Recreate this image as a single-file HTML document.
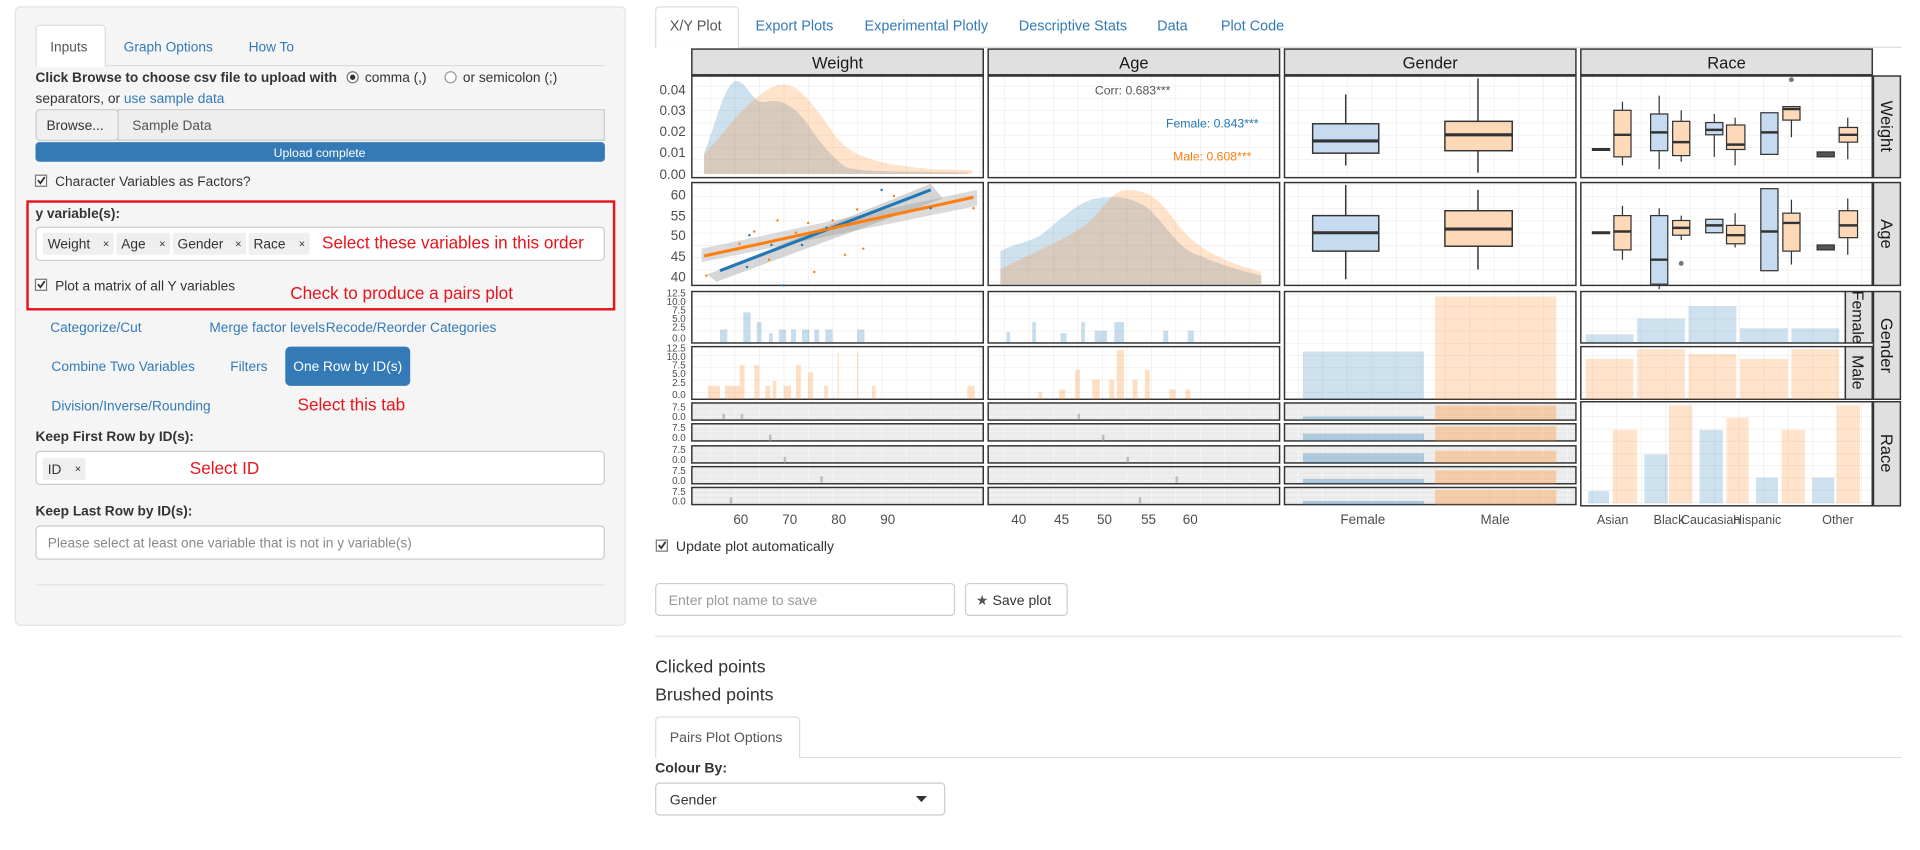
<!DOCTYPE html>
<html><head><meta charset="utf-8"><style>
html,body{margin:0;padding:0;background:#fff;}
svg{display:block;font-family:"Liberation Sans",Arial,sans-serif;}
</style></head><body>
<svg width="1920" height="850" viewBox="0 0 1568 694" xmlns="http://www.w3.org/2000/svg">
<defs>
<pattern id="g" width="20" height="10" patternUnits="userSpaceOnUse"><rect width="20" height="10" fill="#fff"/><path d="M0 0H20M0 0V10" stroke="#ebebeb" stroke-width="1"/></pattern>
<pattern id="gg" width="20" height="4" patternUnits="userSpaceOnUse"><rect width="20" height="4" fill="#ebebeb"/><path d="M0 0H20M0 0V4" stroke="#fff" stroke-width="0.6"/></pattern>
</defs>
<rect width="1568" height="694" fill="#fff"/>
<!-- LEFT PANEL -->
<rect x="12.5" y="5.5" width="498" height="505" rx="4" fill="#f5f5f5" stroke="#e3e3e3"/>
<line x1="29" y1="53.5" x2="494" y2="53.5" stroke="#ddd"/>
<path d="M29.5 53.5V23.5a3 3 0 0 1 3-3H83a3 3 0 0 1 3 3V54" fill="#fff" stroke="#ddd"/>
<rect x="30" y="52" width="55.5" height="3" fill="#fff"/>
<g font-size="11.2">
<text x="41" y="42" fill="#555">Inputs</text>
<text x="101" y="42" fill="#337ab7">Graph Options</text>
<text x="203" y="42" fill="#337ab7">How To</text>
<text x="29" y="67" font-weight="bold" fill="#333">Click Browse to choose csv file to upload with</text>
<circle cx="288" cy="63" r="4.5" fill="#fff" stroke="#777"/><circle cx="288" cy="63" r="2.2" fill="#333"/>
<text x="298" y="67" fill="#333">comma (,)</text>
<circle cx="368" cy="63" r="4.5" fill="#fff" stroke="#999"/>
<text x="378" y="67" fill="#333">or semicolon (;)</text>
<text x="29" y="84" fill="#333">separators, or <tspan fill="#337ab7">use sample data</tspan></text>
<rect x="29.5" y="89.5" width="67" height="25" rx="3" fill="#f0f0f0" stroke="#ccc"/>
<text x="38" y="106" fill="#333">Browse...</text>
<rect x="96.5" y="89.5" width="397" height="25" fill="#eee" stroke="#ccc"/>
<text x="108" y="106" fill="#555">Sample Data</text>
<rect x="29" y="116" width="465" height="16" rx="3" fill="#337ab7"/>
<text x="261" y="128" font-size="10" fill="#fff" text-anchor="middle">Upload complete</text>
<rect x="29" y="143" width="9" height="9" fill="#fff" stroke="#777"/><path d="M31 147l2 2.5 3.5-5" stroke="#333" fill="none" stroke-width="1.5"/>
<text x="45" y="152" fill="#333">Character Variables as Factors?</text>
<rect x="22.5" y="164.5" width="479" height="88" fill="none" stroke="#e8131b" stroke-width="2"/>
<text x="29" y="178" font-weight="bold" fill="#333">y variable(s):</text>
<rect x="29.5" y="185.5" width="464" height="27" rx="3" fill="#fff" stroke="#ccc"/>
<g font-size="11.2" fill="#333">
<rect x="35" y="190" width="58" height="18" rx="2" fill="#efefef"/><text x="39" y="203">Weight</text><text x="84" y="202" font-size="9">×</text>
<rect x="95" y="190" width="44" height="18" rx="2" fill="#efefef"/><text x="99" y="203">Age</text><text x="130" y="202" font-size="9">×</text>
<rect x="141" y="190" width="60" height="18" rx="2" fill="#efefef"/><text x="145" y="203">Gender</text><text x="192" y="202" font-size="9">×</text>
<rect x="203" y="190" width="50" height="18" rx="2" fill="#efefef"/><text x="207" y="203">Race</text><text x="244" y="202" font-size="9">×</text>
</g>
<text x="263" y="203" font-size="14" fill="#e8131b">Select these variables in this order</text>
<rect x="29" y="228" width="9" height="9" fill="#fff" stroke="#777"/><path d="M31 232l2 2.5 3.5-5" stroke="#333" fill="none" stroke-width="1.5"/>
<text x="45" y="237" fill="#333">Plot a matrix of all Y variables</text>
<text x="237" y="244" font-size="14" fill="#e8131b">Check to produce a pairs plot</text>
<text x="41" y="271" fill="#337ab7">Categorize/Cut</text>
<text x="171" y="271" fill="#337ab7">Merge factor levels</text>
<text x="266" y="271" fill="#337ab7">Recode/Reorder Categories</text>
<text x="42" y="303" fill="#337ab7">Combine Two Variables</text>
<text x="188" y="303" fill="#337ab7">Filters</text>
<rect x="233" y="283" width="102" height="32" rx="4" fill="#337ab7"/>
<text x="284" y="303" fill="#fff" text-anchor="middle">One Row by ID(s)</text>
<text x="42" y="335" fill="#337ab7">Division/Inverse/Rounding</text>
<text x="243" y="335" font-size="14" fill="#e8131b">Select this tab</text>
<text x="29" y="360" font-weight="bold" fill="#333">Keep First Row by ID(s):</text>
<rect x="29.5" y="368.5" width="464" height="27" rx="3" fill="#fff" stroke="#ccc"/>
<rect x="35" y="374" width="35" height="18" rx="2" fill="#efefef"/><text x="39" y="387" fill="#333">ID</text><text x="61" y="386" font-size="9" fill="#333">×</text>
<text x="155" y="387" font-size="14" fill="#e8131b">Select ID</text>
<text x="29" y="421" font-weight="bold" fill="#333">Keep Last Row by ID(s):</text>
<rect x="29.5" y="429.5" width="464" height="27" rx="3" fill="#fff" stroke="#ccc"/>
<text x="39" y="447" fill="#888">Please select at least one variable that is not in y variable(s)</text>
</g>
<line x1="29" y1="477.5" x2="494" y2="477.5" stroke="#e3e3e3"/>

<!-- RIGHT TABS -->
<line x1="535" y1="38.5" x2="1553" y2="38.5" stroke="#ddd"/>
<path d="M535.5 39V8.5a3 3 0 0 1 3-3H600a3 3 0 0 1 3 3V39" fill="#fff" stroke="#ddd"/>
<g font-size="11.8">
<text x="547" y="25" fill="#555">X/Y Plot</text>
<text x="617" y="25" fill="#337ab7">Export Plots</text>
<text x="706" y="25" fill="#337ab7">Experimental Plotly</text>
<text x="832" y="25" fill="#337ab7">Descriptive Stats</text>
<text x="945" y="25" fill="#337ab7">Data</text>
<text x="997" y="25" fill="#337ab7">Plot Code</text>
</g>

<!-- PLOT: strips -->
<g stroke="#333" stroke-width="1.2">
<rect x="565" y="40" width="238" height="21" fill="#e0e0e0"/>
<rect x="807" y="40" width="238" height="21" fill="#e0e0e0"/>
<rect x="1049" y="40" width="238" height="21" fill="#e0e0e0"/>
<rect x="1291" y="40" width="238" height="21" fill="#e0e0e0"/>
<rect x="1530" y="62" width="22" height="83" fill="#e0e0e0"/>
<rect x="1530" y="149" width="22" height="84" fill="#e0e0e0"/>
<rect x="1530" y="238" width="22" height="88" fill="#e0e0e0"/>
<rect x="1530" y="328" width="22" height="85" fill="#e0e0e0"/>
<rect x="1507" y="238" width="22" height="42" fill="#e0e0e0"/>
<rect x="1507" y="283" width="22" height="43" fill="#e0e0e0"/>
</g>
<g font-size="13.5" fill="#1a1a1a" text-anchor="middle">
<text x="684" y="56">Weight</text><text x="926" y="56">Age</text><text x="1168" y="56">Gender</text><text x="1410" y="56">Race</text>
<text transform="translate(1536,103) rotate(90)">Weight</text>
<text transform="translate(1536,191) rotate(90)">Age</text>
<text transform="translate(1536,282) rotate(90)">Gender</text>
<text transform="translate(1536,370) rotate(90)">Race</text>
<text transform="translate(1513,259) rotate(90)" font-size="13">Female</text>
<text transform="translate(1513,304) rotate(90)" font-size="13">Male</text>
</g>
<!-- panels -->
<g stroke="#333" stroke-width="1.2">
<rect x="565" y="62" width="238" height="83" fill="url(#g)"/><rect x="807" y="62" width="238" height="83" fill="url(#g)"/><rect x="1049" y="62" width="238" height="83" fill="url(#g)"/><rect x="1291" y="62" width="238" height="83" fill="url(#g)"/>
<rect x="565" y="149" width="238" height="84" fill="url(#g)"/><rect x="807" y="149" width="238" height="84" fill="url(#g)"/><rect x="1049" y="149" width="238" height="84" fill="url(#g)"/><rect x="1291" y="149" width="238" height="84" fill="url(#g)"/>
<rect x="565" y="238" width="238" height="42" fill="url(#g)"/><rect x="807" y="238" width="238" height="42" fill="url(#g)"/>
<rect x="565" y="283" width="238" height="43" fill="url(#g)"/><rect x="807" y="283" width="238" height="43" fill="url(#g)"/>
<rect x="1049" y="238" width="238" height="88" fill="url(#g)"/>
<rect x="1291" y="238" width="216" height="42" fill="url(#g)"/><rect x="1291" y="283" width="216" height="43" fill="url(#g)"/>
<rect x="1291" y="328" width="238" height="85" fill="url(#g)"/>
</g>
<g stroke="#333" stroke-width="1.2" fill="url(#gg)">
<rect x="565" y="329" width="238" height="14"/><rect x="565" y="346" width="238" height="14"/><rect x="565" y="364" width="238" height="14"/><rect x="565" y="381" width="238" height="14"/><rect x="565" y="398" width="238" height="14"/>
<rect x="807" y="329" width="238" height="14"/><rect x="807" y="346" width="238" height="14"/><rect x="807" y="364" width="238" height="14"/><rect x="807" y="381" width="238" height="14"/><rect x="807" y="398" width="238" height="14"/>
<rect x="1049" y="329" width="238" height="14"/><rect x="1049" y="346" width="238" height="14"/><rect x="1049" y="364" width="238" height="14"/><rect x="1049" y="381" width="238" height="14"/><rect x="1049" y="398" width="238" height="14"/>
</g>
<!-- Weight density -->
<path d="M575 142L575 125C585 100 592 68 601 66C610 66 615 86 625 83C640 80 650 88 660 102C672 120 680 128 690 136C700 140 720 140 790 141L790 142Z" fill="#1f77b4" fill-opacity="0.22"/>
<path d="M575 142L575 126C590 110 600 95 615 82C625 74 632 68 642 69C652 70 665 85 680 108C695 130 720 134 760 138L794 139L794 142Z" fill="#ff7f0e" fill-opacity="0.22"/>
<!-- Age density -->
<path d="M817 232V205C830 198 840 198 850 192C865 180 880 165 895 162C910 160 920 160 935 168C950 180 960 200 975 207C985 210 990 215 1030 225V232Z" fill="#1f77b4" fill-opacity="0.22"/>
<path d="M817 232V220C835 210 860 200 880 188C900 176 905 156 920 155C935 155 945 160 958 178C970 195 985 210 1030 222V232Z" fill="#ff7f0e" fill-opacity="0.22"/>
<g font-size="10" text-anchor="middle">
<text x="925" y="77" fill="#555">Corr: 0.683***</text>
<text x="990" y="104" fill="#1f77b4">Female: 0.843***</text>
<text x="990" y="131" fill="#ff7f0e">Male: 0.608***</text>
</g>
<!-- scatter -->
<path d="M578 224L760 150L770 162L585 230Z" fill="#999" fill-opacity="0.4"/>
<path d="M573 203L798 155L798 168L573 214Z" fill="#999" fill-opacity="0.35"/>
<line x1="588" y1="221" x2="760" y2="155" stroke="#1f77b4" stroke-width="2.5"/>
<line x1="575" y1="209" x2="795" y2="161" stroke="#ff7f0e" stroke-width="2.5"/>
<g fill="#ff7f0e"><circle cx="577" cy="225" r="1"/><circle cx="604" cy="199" r="1"/><circle cx="616" cy="189" r="1"/><circle cx="628" cy="212" r="1"/><circle cx="635" cy="180" r="1"/><circle cx="650" cy="190" r="1"/><circle cx="660" cy="182" r="1"/><circle cx="680" cy="180" r="1"/><circle cx="700" cy="171" r="1"/><circle cx="705" cy="203" r="1"/><circle cx="690" cy="208" r="1"/><circle cx="795" cy="170" r="1"/><circle cx="665" cy="222" r="1"/><circle cx="730" cy="160" r="1"/></g>
<g fill="#1f77b4"><circle cx="612" cy="192" r="1"/><circle cx="630" cy="200" r="1"/><circle cx="640" cy="233" r="1"/><circle cx="655" cy="200" r="1"/><circle cx="675" cy="186" r="1"/><circle cx="720" cy="155" r="1"/><circle cx="610" cy="218" r="1"/><circle cx="760" cy="170" r="1"/></g>
<!-- Gender boxplots -->
<g stroke="#333" stroke-width="1.2">
<line x1="1099" y1="77" x2="1099" y2="135"/><rect x="1072" y="101" width="54" height="24" fill="#c6dbef"/><line x1="1072" y1="115" x2="1126" y2="115" stroke-width="2.5"/>
<line x1="1207" y1="64" x2="1207" y2="141"/><rect x="1180" y="99" width="55" height="24" fill="#fdd9b8"/><line x1="1180" y1="110" x2="1235" y2="110" stroke-width="2.5"/>
<line x1="1099" y1="151" x2="1099" y2="228"/><rect x="1072" y="176" width="54" height="29" fill="#c6dbef"/><line x1="1072" y1="190" x2="1126" y2="190" stroke-width="2.5"/>
<line x1="1207" y1="155" x2="1207" y2="220"/><rect x="1180" y="172" width="55" height="29" fill="#fdd9b8"/><line x1="1180" y1="187" x2="1235" y2="187" stroke-width="2.5"/>
</g>
<!-- Race boxplots weight row -->
<g stroke="#333" stroke-width="1">
<line x1="1300" y1="122" x2="1315" y2="122" stroke-width="2.5"/>
<line x1="1325" y1="83" x2="1325" y2="135"/><rect x="1318" y="90" width="14" height="38" fill="#fdd9b8"/><line x1="1318" y1="110" x2="1332" y2="110" stroke-width="2"/>
<line x1="1355" y1="78" x2="1355" y2="138"/><rect x="1348" y="93" width="14" height="30" fill="#c6dbef"/><line x1="1348" y1="108" x2="1362" y2="108" stroke-width="2"/>
<line x1="1373" y1="90" x2="1373" y2="132"/><rect x="1366" y="99" width="14" height="28" fill="#fdd9b8"/><line x1="1366" y1="116" x2="1380" y2="116" stroke-width="2"/>
<line x1="1400" y1="93" x2="1400" y2="128"/><rect x="1393" y="100" width="14" height="10" fill="#c6dbef"/><line x1="1393" y1="106" x2="1407" y2="106" stroke-width="2"/>
<line x1="1417" y1="96" x2="1417" y2="135"/><rect x="1410" y="102" width="15" height="20" fill="#fdd9b8"/><line x1="1410" y1="118" x2="1425" y2="118" stroke-width="2"/>
<rect x="1438" y="92" width="14" height="34" fill="#c6dbef"/><line x1="1438" y1="108" x2="1452" y2="108" stroke-width="2"/>
<line x1="1463" y1="98" x2="1463" y2="112"/><rect x="1456" y="87" width="14" height="11" fill="#fdd9b8"/><line x1="1456" y1="89" x2="1470" y2="89" stroke-width="2"/>
<rect x="1484" y="124" width="14" height="4" fill="#555"/>
<line x1="1509" y1="96" x2="1509" y2="130"/><rect x="1502" y="104" width="15" height="12" fill="#fdd9b8"/><line x1="1502" y1="110" x2="1517" y2="110" stroke-width="2"/>
<!-- age row -->
<line x1="1300" y1="190" x2="1315" y2="190" stroke-width="2.5"/>
<line x1="1325" y1="168" x2="1325" y2="212"/><rect x="1318" y="176" width="14" height="28" fill="#fdd9b8"/><line x1="1318" y1="189" x2="1332" y2="189" stroke-width="2"/>
<line x1="1355" y1="170" x2="1355" y2="236"/><rect x="1348" y="176" width="14" height="56" fill="#c6dbef"/><line x1="1348" y1="212" x2="1362" y2="212" stroke-width="2"/>
<line x1="1373" y1="176" x2="1373" y2="196"/><rect x="1366" y="180" width="14" height="12" fill="#fdd9b8"/><line x1="1366" y1="186" x2="1380" y2="186" stroke-width="2"/>
<rect x="1393" y="179" width="14" height="11" fill="#c6dbef"/><line x1="1393" y1="184" x2="1407" y2="184" stroke-width="2"/>
<line x1="1417" y1="174" x2="1417" y2="202"/><rect x="1410" y="184" width="15" height="15" fill="#fdd9b8"/><line x1="1410" y1="192" x2="1425" y2="192" stroke-width="2"/>
<rect x="1438" y="154" width="14" height="67" fill="#c6dbef"/><line x1="1438" y1="189" x2="1452" y2="189" stroke-width="2"/>
<line x1="1463" y1="163" x2="1463" y2="216"/><rect x="1456" y="174" width="14" height="31" fill="#fdd9b8"/><line x1="1456" y1="182" x2="1470" y2="182" stroke-width="2"/>
<rect x="1484" y="200" width="14" height="4" fill="#555"/>
<line x1="1509" y1="162" x2="1509" y2="208"/><rect x="1502" y="172" width="15" height="22" fill="#fdd9b8"/><line x1="1502" y1="184" x2="1517" y2="184" stroke-width="2"/>
</g>
<circle cx="1463" cy="65" r="2" fill="#777"/><circle cx="1373" cy="215" r="2" fill="#777"/>
<!-- Gender col bars -->
<rect x="1064" y="287" width="99" height="39" fill="#1f77b4" fill-opacity="0.22"/>
<rect x="1172" y="242" width="99" height="84" fill="#ff7f0e" fill-opacity="0.22"/>
<g fill="#1f77b4" fill-opacity="0.22">
<rect x="1295" y="273" width="39" height="7"/><rect x="1337" y="260" width="39" height="20"/><rect x="1379" y="250" width="39" height="30"/><rect x="1421" y="268" width="39" height="12"/><rect x="1463" y="268" width="39" height="12"/>
<rect x="1297" y="401" width="17" height="10"/><rect x="1343" y="371" width="19" height="40"/><rect x="1388" y="351" width="19" height="60"/><rect x="1434" y="390" width="18" height="21"/><rect x="1480" y="390" width="18" height="21"/>
</g>
<g fill="#ff7f0e" fill-opacity="0.22">
<rect x="1295" y="293" width="39" height="33"/><rect x="1337" y="285" width="39" height="41"/><rect x="1379" y="289" width="39" height="37"/><rect x="1421" y="293" width="39" height="33"/><rect x="1463" y="285" width="39" height="41"/>
<rect x="1317" y="351" width="20" height="60"/><rect x="1363" y="331" width="19" height="80"/><rect x="1410" y="341" width="18" height="70"/><rect x="1455" y="351" width="19" height="60"/><rect x="1500" y="331" width="19" height="80"/>
</g>
<!-- Race row Gender col bars -->
<g fill-opacity="0.3">
<rect x="1064" y="340" width="99" height="3" fill="#1f77b4"/><rect x="1172" y="331" width="99" height="12" fill="#ff7f0e"/>
<rect x="1064" y="354" width="99" height="6" fill="#1f77b4"/><rect x="1172" y="348" width="99" height="12" fill="#ff7f0e"/>
<rect x="1064" y="370" width="99" height="8" fill="#1f77b4"/><rect x="1172" y="368" width="99" height="10" fill="#ff7f0e"/>
<rect x="1064" y="391" width="99" height="4" fill="#1f77b4"/><rect x="1172" y="384" width="99" height="11" fill="#ff7f0e"/>
<rect x="1064" y="409" width="99" height="3" fill="#1f77b4"/><rect x="1172" y="400" width="99" height="12" fill="#ff7f0e"/>
</g>
<!-- histograms -->
<g fill="#1f77b4" fill-opacity="0.25">
<rect x="588" y="269" width="6" height="11"/><rect x="607" y="255" width="6" height="25"/><rect x="618" y="263" width="4" height="17"/><rect x="628" y="272" width="3" height="8"/><rect x="636" y="269" width="6" height="11"/><rect x="646" y="269" width="4" height="11"/><rect x="655" y="269" width="6" height="11"/><rect x="665" y="269" width="4" height="11"/><rect x="674" y="269" width="6" height="11"/><rect x="700" y="269" width="6" height="11"/>
<rect x="822" y="271" width="3" height="9"/><rect x="843" y="263" width="3" height="17"/><rect x="866" y="272" width="5" height="8"/><rect x="883" y="263" width="3" height="17"/><rect x="894" y="270" width="10" height="10"/><rect x="910" y="263" width="8" height="17"/><rect x="950" y="270" width="4" height="10"/><rect x="970" y="270" width="5" height="10"/>
</g>
<g fill="#ff7f0e" fill-opacity="0.25">
<rect x="578" y="315" width="10" height="11"/><rect x="592" y="315" width="12" height="11"/><rect x="604" y="298" width="4" height="28"/><rect x="616" y="298" width="4" height="28"/><rect x="625" y="315" width="4" height="11"/><rect x="631" y="311" width="3" height="15"/><rect x="640" y="315" width="6" height="11"/><rect x="650" y="298" width="4" height="28"/><rect x="660" y="304" width="4" height="22"/><rect x="673" y="315" width="3" height="11"/><rect x="684" y="288" width="1" height="38"/><rect x="700" y="288" width="1" height="38"/><rect x="712" y="315" width="3" height="11"/><rect x="790" y="315" width="6" height="11"/>
<rect x="848" y="320" width="3" height="6"/><rect x="865" y="318" width="5" height="8"/><rect x="878" y="302" width="4" height="24"/><rect x="892" y="310" width="6" height="16"/><rect x="906" y="310" width="4" height="16"/><rect x="912" y="286" width="6" height="40"/><rect x="925" y="310" width="4" height="16"/><rect x="935" y="302" width="4" height="24"/><rect x="955" y="318" width="5" height="8"/><rect x="968" y="318" width="4" height="8"/>
</g>
<g fill="#999" fill-opacity="0.6">
<rect x="590" y="338" width="2" height="4"/><rect x="605" y="338" width="2" height="4"/><rect x="628" y="355" width="2" height="5"/><rect x="640" y="373" width="2" height="5"/><rect x="670" y="389" width="2" height="5"/><rect x="596" y="406" width="2" height="5"/>
<rect x="880" y="338" width="2" height="4"/><rect x="900" y="355" width="2" height="5"/><rect x="920" y="373" width="2" height="5"/><rect x="960" y="389" width="2" height="5"/><rect x="930" y="406" width="2" height="5"/>
</g>
<!-- axis labels -->
<g font-size="11" fill="#4d4d4d" text-anchor="end">
<text x="560" y="77">0.04</text><text x="560" y="94">0.03</text><text x="560" y="111">0.02</text><text x="560" y="128">0.01</text><text x="560" y="146">0.00</text>
<text x="560" y="163">60</text><text x="560" y="180">55</text><text x="560" y="196">50</text><text x="560" y="213">45</text><text x="560" y="230">40</text>
</g>
<g font-size="8" fill="#4d4d4d" text-anchor="end">
<text x="560" y="242">12.5</text><text x="560" y="249">10.0</text><text x="560" y="256">7.5</text><text x="560" y="263">5.0</text><text x="560" y="270">2.5</text><text x="560" y="279">0.0</text>
<text x="560" y="287">12.5</text><text x="560" y="294">10.0</text><text x="560" y="301">7.5</text><text x="560" y="308">5.0</text><text x="560" y="315">2.5</text><text x="560" y="325">0.0</text>
<text x="560" y="335">7.5</text><text x="560" y="343">0.0</text><text x="560" y="352">7.5</text><text x="560" y="360">0.0</text><text x="560" y="370">7.5</text><text x="560" y="378">0.0</text><text x="560" y="387">7.5</text><text x="560" y="395">0.0</text><text x="560" y="404">7.5</text><text x="560" y="412">0.0</text>
</g>
<g font-size="11" fill="#4d4d4d" text-anchor="middle">
<text x="605" y="428">60</text><text x="645" y="428">70</text><text x="685" y="428">80</text><text x="725" y="428">90</text>
<text x="832" y="428">40</text><text x="867" y="428">45</text><text x="902" y="428">50</text><text x="938" y="428">55</text><text x="972" y="428">60</text>
<text x="1113" y="428">Female</text><text x="1221" y="428">Male</text>
</g>
<g font-size="10.3" fill="#4d4d4d" text-anchor="middle">
<text x="1317" y="428">Asian</text><text x="1363" y="428">Black</text><text x="1397" y="428">Caucasian</text><text x="1435" y="428">Hispanic</text><text x="1501" y="428">Other</text>
</g>

<!-- below plot -->
<g font-size="11.5">
<rect x="536" y="441" width="9" height="9" fill="#fff" stroke="#777"/><path d="M538 445l2 2.5 3.5-5" stroke="#333" fill="none" stroke-width="1.5"/>
<text x="552" y="450" fill="#333">Update plot automatically</text>
<rect x="535.5" y="476.5" width="244" height="26" rx="3" fill="#fff" stroke="#ccc"/>
<text x="546" y="494" fill="#999">Enter plot name to save</text>
<rect x="788.5" y="476.5" width="83" height="26" rx="3" fill="#fff" stroke="#ccc"/>
<text x="797" y="494" fill="#333"><tspan fill="#555">★</tspan> Save plot</text>
</g>
<line x1="535" y1="519.5" x2="1553" y2="519.5" stroke="#e5e5e5"/>
<text x="535" y="549" font-size="14.5" fill="#333">Clicked points</text>
<text x="535" y="572" font-size="14.5" fill="#333">Brushed points</text>
<line x1="535" y1="618.5" x2="1553" y2="618.5" stroke="#ddd"/>
<path d="M535.5 619V588.5a3 3 0 0 1 3-3H650a3 3 0 0 1 3 3V619" fill="#fff" stroke="#ddd"/>
<text x="547" y="606" font-size="11.5" fill="#555">Pairs Plot Options</text>
<text x="535" y="631" font-size="11.5" font-weight="bold" fill="#333">Colour By:</text>
<rect x="535.5" y="639.5" width="236" height="26" rx="3" fill="#fff" stroke="#ccc"/>
<text x="547" y="657" font-size="11.5" fill="#333">Gender</text>
<path d="M748 650h9l-4.5 5z" fill="#333"/>
</svg>
</body></html>
